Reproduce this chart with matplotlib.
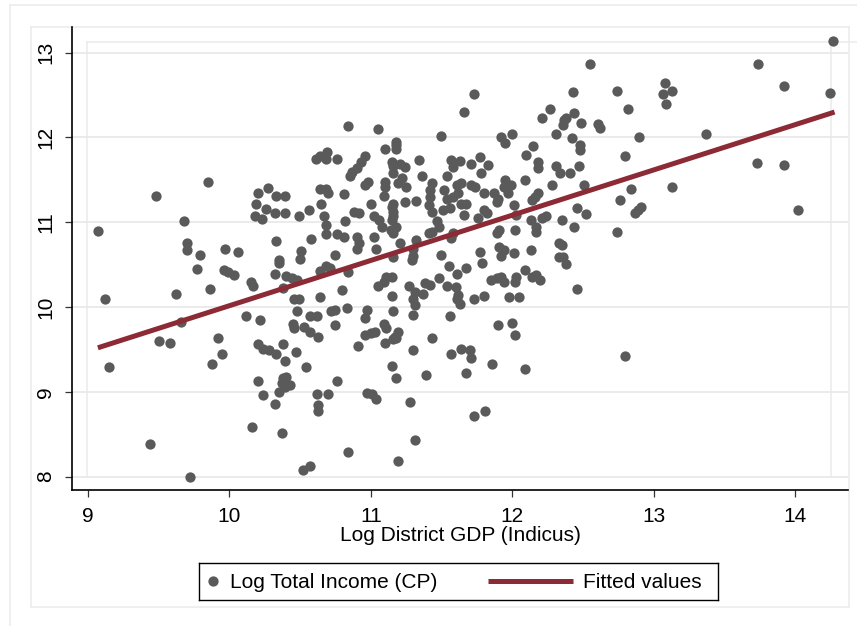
import matplotlib
matplotlib.use('Agg')
from matplotlib import pyplot as plt
from matplotlib.lines import Line2D

plt.rcParams['font.family'] = ['Liberation Sans', 'DejaVu Sans']

# Log District GDP (Indicus) / Log Total Income (CP)
gdp = [
    9.07, 9.48, 9.85, 9.68, 9.70, 9.70, 9.79, 9.97, 10.06,
    9.77, 9.96, 9.99, 10.03, 9.12, 9.62, 9.86, 9.66, 9.50, 9.58, 9.92, 9.95, 9.88, 9.15, 9.44, 9.72,
    10.84, 11.05, 11.18, 11.10,
    10.61, 10.64, 10.69, 10.68, 10.76,
    10.96, 10.93, 10.90, 10.87, 10.85,
    11.15, 11.16, 11.16, 11.10, 11.10,
    10.96, 10.98, 10.81, 11.09,
    10.27, 10.20, 10.33, 10.39, 10.19, 10.26, 10.32, 10.39, 10.49, 10.56, 10.18, 10.23,
    10.64, 10.68, 10.70, 10.65, 10.67, 10.68, 10.68, 10.76, 10.81,
    10.82, 10.88, 10.92, 11.00, 11.02, 11.06, 11.08,
    11.15, 11.16, 11.14,
    10.90, 10.92, 10.90, 11.02, 11.04,
    10.58, 10.33, 10.51, 10.50, 10.75, 10.35,
    10.35, 10.32, 10.40, 10.44, 10.48, 10.64, 10.68, 10.71, 10.84, 10.15, 10.17, 10.38,
    10.46, 10.49, 10.64, 10.80, 11.11, 11.09, 11.05, 11.15,
    10.12, 10.22, 10.48, 10.45, 10.46, 10.57, 10.62, 10.53, 10.57, 10.63, 10.72, 10.75,
    10.83, 10.75, 10.97, 10.96, 10.96, 11.00, 11.03, 11.09, 11.11, 11.10, 11.17, 10.91,
    10.20, 10.24, 10.28, 10.33, 10.38, 10.39, 10.47, 10.54,
    10.20, 10.24, 10.32, 10.38, 10.40, 10.37, 10.39, 10.43, 10.35,
    10.62, 10.70, 10.76, 10.63, 10.63, 10.97, 11.01, 11.04, 11.15, 11.18,
    10.16, 10.37, 10.84, 10.52, 10.57, 11.19,
    11.73, 11.66, 12.27, 12.21, 11.50, 11.92, 11.95, 12.00, 12.31, 11.18, 11.18, 12.15,
    12.10, 12.18, 12.18, 11.21, 11.24, 11.22, 11.19, 11.25,
    11.34, 11.36, 11.57, 11.63, 11.58, 11.77, 11.83, 11.78, 11.71, 11.54,
    11.43, 11.42, 11.42, 11.41, 11.43,
    11.52, 11.54, 11.51, 11.56,
    11.61, 11.64, 11.62, 11.58, 11.71, 11.74, 11.64, 11.67, 11.66, 11.80,
    11.87, 11.90, 11.95, 11.94, 11.99, 11.97, 11.89,
    12.09, 12.18, 12.16, 12.14, 12.28, 12.31,
    11.16, 11.16, 11.15, 11.24, 11.32,
    11.80, 11.82, 11.76, 12.01, 12.03, 12.13, 12.17, 12.21, 12.24, 12.17, 12.02,
    11.47, 11.48, 11.43, 11.41,
    11.18, 11.21, 11.16, 11.32, 11.30, 11.57, 11.58,
    11.89, 11.91, 11.91, 11.94, 11.77, 12.01, 12.13, 11.50, 12.33,
    11.16, 11.30, 11.29, 11.79, 11.92, 12.33,
    11.55, 11.61, 11.67, 11.48, 11.15,
    11.27, 11.31, 11.30, 11.31, 11.30,
    11.38, 11.42, 11.37,
    11.54, 11.60, 11.62, 11.63, 11.61,
    11.73, 11.80,
    11.85, 11.89, 11.94, 11.92,
    12.02, 12.03, 12.09, 12.14, 12.17, 12.20,
    11.98, 12.05,
    11.16, 11.56, 11.90, 12.00, 12.02,
    11.19, 11.18, 11.16, 11.43, 11.30,
    11.57, 11.64, 11.70, 11.71, 11.86, 12.09,
    11.39, 11.67, 11.28, 11.73, 11.81, 11.31,
    12.55, 13.74, 14.27, 12.43, 12.74, 13.08, 13.07, 13.13, 13.09, 13.92, 14.25, 12.82,
    12.44, 12.37, 12.38, 12.36, 12.49, 12.61, 12.62,
    12.42, 12.48, 12.48, 12.90, 13.37, 12.80,
    12.34, 12.41, 12.47, 13.73, 13.92,
    12.51, 12.84, 13.13, 12.76, 12.46, 12.52, 12.87, 12.89, 12.91, 14.02,
    12.35, 12.44, 12.74, 12.35, 12.36,
    12.38, 12.46, 12.80,
]
income = [
    10.90, 11.31, 11.48, 11.02, 10.76, 10.67, 10.61, 10.68, 10.65,
    10.45, 10.44, 10.41, 10.38, 10.10, 10.15, 10.21, 9.82, 9.60, 9.58, 9.63, 9.45, 9.33, 9.29, 8.39, 8.00,
    12.14, 12.10, 11.91, 11.86,
    11.75, 11.78, 11.83, 11.75, 11.75,
    11.78, 11.71, 11.64, 11.59, 11.54,
    11.71, 11.66, 11.58, 11.48, 11.42,
    11.44, 11.47, 11.33, 11.31,
    11.41, 11.34, 11.31, 11.31, 11.22, 11.16, 11.11, 11.11, 11.07, 11.15, 11.07, 11.04,
    11.39, 11.39, 11.34, 11.22, 11.07, 10.97, 10.86, 10.86, 10.83,
    11.01, 11.12, 11.11, 11.22, 11.07, 11.03, 10.95,
    11.18, 11.07, 10.91,
    10.83, 10.75, 10.69, 10.83, 10.69,
    10.80, 10.78, 10.66, 10.57, 10.61, 10.56,
    10.52, 10.39, 10.37, 10.34, 10.32, 10.43, 10.48, 10.46, 10.41, 10.30, 10.25, 10.22,
    10.09, 10.09, 10.12, 10.20, 10.35, 10.30, 10.25, 10.13,
    9.90, 9.85, 9.95, 9.80, 9.75, 9.89, 9.90, 9.76, 9.71, 9.65, 9.95, 9.97,
    9.99, 9.79, 9.97, 9.87, 9.67, 9.69, 9.71, 9.80, 9.75, 9.58, 9.65, 9.54,
    9.57, 9.51, 9.49, 9.45, 9.57, 9.36, 9.47, 9.29,
    9.13, 8.96, 8.86, 9.16, 9.18, 9.10, 9.06, 9.08, 9.00,
    8.98, 8.98, 9.13, 8.85, 8.77, 8.99, 8.98, 8.92, 9.30, 9.16,
    8.59, 8.51, 8.29, 8.08, 8.13, 8.19,
    12.51, 12.30, 12.34, 12.23, 12.02, 12.01, 11.93, 12.04, 12.04, 11.95, 11.87, 11.90,
    11.79, 11.71, 11.64, 11.69, 11.65, 11.52, 11.46, 11.42,
    11.73, 11.55, 11.73, 11.72, 11.65, 11.77, 11.68, 11.58, 11.69, 11.55,
    11.46, 11.38, 11.30, 11.20, 11.12,
    11.38, 11.28, 11.15, 11.17,
    11.44, 11.46, 11.34, 11.30, 11.44, 11.42, 11.22, 11.22, 11.09, 11.34,
    11.34, 11.28, 11.50, 11.42, 11.44, 11.34, 11.24,
    11.50, 11.34, 11.30, 11.26, 11.44, 11.66,
    11.22, 11.12, 11.03, 11.24, 11.25,
    11.15, 11.11, 11.05, 11.20, 11.09, 11.03, 10.95, 11.05, 11.07, 10.89, 10.91,
    11.01, 10.95, 10.89, 10.87,
    10.95, 10.75, 10.87, 10.79, 10.69, 10.81, 10.87,
    10.87, 10.91, 10.71, 10.67, 10.65, 10.64, 10.67, 10.61, 10.75,
    10.59, 10.60, 10.56, 10.52, 10.60, 10.59,
    10.48, 10.39, 10.46, 10.34, 10.36,
    10.25, 10.18, 10.10, 10.02, 9.91,
    10.28, 10.26, 10.16,
    10.25, 10.24, 10.14, 10.04, 10.10,
    10.09, 10.13,
    10.32, 10.34, 10.30, 10.36,
    10.30, 10.36, 10.44, 10.36, 10.38, 10.32,
    10.12, 10.12,
    9.95, 9.90, 9.79, 9.81, 9.67,
    9.71, 9.64, 9.62, 9.64, 9.49,
    9.45, 9.51, 9.49, 9.40, 9.33, 9.27,
    9.20, 9.22, 8.88, 8.72, 8.77, 8.43,
    12.87, 12.87, 13.14, 12.54, 12.55, 12.64, 12.51, 12.55, 12.40, 12.61, 12.52, 12.34,
    12.29, 12.21, 12.23, 12.15, 12.17, 12.16, 12.11,
    11.99, 11.91, 11.85, 12.00, 12.04, 11.78,
    11.58, 11.58, 11.66, 11.70, 11.68,
    11.44, 11.39, 11.42, 11.26, 11.17, 11.10, 11.11, 11.15, 11.18, 11.15,
    11.03, 10.95, 10.89, 10.73, 10.59,
    10.51, 10.21, 9.42,
]
fit_gdp = [9.07, 14.28]
fit_income = [9.52, 12.30]
x_ticks = [9, 10, 11, 12, 13, 14]
y_ticks = [8, 9, 10, 11, 12, 13]

W, H = 857, 626
dot_color = '#5a5a5a'
fit_color = '#8c2a35'
frame_color = '#ececec'


def fx(px):
    return px / W


def fy(py):
    return 1 - py / H


def pline(x0, y0, x1, y1, **kw):
    # light frame lines, drawn underneath the axes contents
    fig.add_artist(Line2D([fx(x0), fx(x1)], [fy(y0), fy(y1)], zorder=-1, **kw))


fig = plt.figure(figsize=(W / 100, H / 100), dpi=100)

# graph region frames
pline(10, 5, 857, 5, color=frame_color, lw=1.2)
pline(10, 5, 10, 626, color=frame_color, lw=1.2)
pline(31, 27, 849, 27, color=frame_color, lw=1.2)
pline(31, 27, 31, 607, color=frame_color, lw=1.2)
pline(31, 607, 849, 607, color=frame_color, lw=1.2)
pline(849, 27, 849, 607, color=frame_color, lw=1.2)

ax = fig.add_axes([fx(72), fy(490), fx(848) - fx(72), fy(27) - fy(490)])
ax.patch.set_alpha(0)
ax.set_xlim(8.887, 14.375)
ax.set_ylim(7.843, 13.303)

# plot region outline
pline(87, 42, 857, 42, color=frame_color, lw=1.2)
pline(87, 42, 87, 477, color=frame_color, lw=1.2)
pline(831, 42, 831, 477, color=frame_color, lw=1.2)

ax.set_yticks(y_ticks)
ax.set_xticks(x_ticks)
ax.yaxis.grid(True, color='#e8e8e8', lw=1.2)
ax.set_axisbelow(True)

ax.plot(gdp, income, 'o', ms=7.4, mew=0, color=dot_color, zorder=3)
ax.plot(fit_gdp, fit_income, color=fit_color, lw=3.6, solid_capstyle='butt', zorder=4)

for s in ['top', 'right']:
    ax.spines[s].set_visible(False)
for s in ['left', 'bottom']:
    ax.spines[s].set_linewidth(1.2)
    ax.spines[s].set_color('black')
ax.tick_params(length=5, width=0.9, colors='#333333', labelcolor='black', labelsize=15, pad=7)
for lab in ax.get_yticklabels():
    lab.set_rotation(90)
    lab.set_va('center')
ax.set_xlabel('Log District GDP (Indicus)', fontsize=15, labelpad=0)

# legend
lax = fig.add_axes([fx(199), fy(600), fx(718) - fx(199), fy(563) - fy(600)])
lax.set_xlim(199, 718)
lax.set_ylim(600, 563)
lax.set_xticks([])
lax.set_yticks([])
for s in lax.spines.values():
    s.set_linewidth(1.0)
    s.set_color('black')
lax.plot([213], [581], 'o', ms=7.4, mew=0, color=dot_color)
lax.text(230, 582, 'Log Total Income (CP)', fontsize=15, va='center', ha='left')
lax.plot([488, 573], [581, 581], color=fit_color, lw=3.6, solid_capstyle='butt')
lax.text(583, 582, 'Fitted values', fontsize=15, va='center', ha='left')

fig.savefig('out.png', dpi=100)
